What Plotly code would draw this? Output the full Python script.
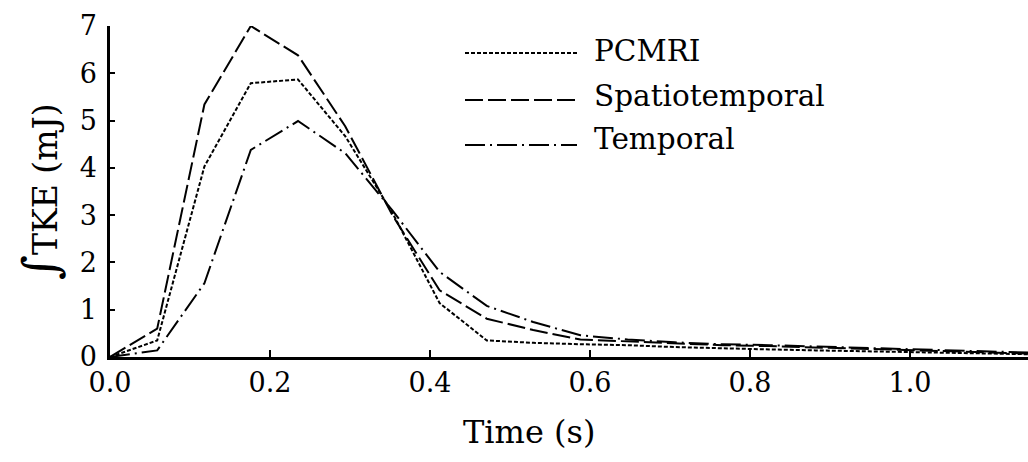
import plotly.graph_objects as go

# Data
time_s = [0.0, 0.059, 0.118, 0.176, 0.235, 0.294, 0.353, 0.412, 0.471, 0.529, 0.588,
          0.647, 0.706, 0.765, 0.824, 0.882, 0.941, 1.0, 1.059, 1.118, 1.176]
pcmri = [0.0, 0.35, 4.03, 5.79, 5.87, 4.67, 3.05, 1.14, 0.35, 0.30, 0.27,
         0.25, 0.21, 0.18, 0.16, 0.14, 0.12, 0.10, 0.08, 0.06, 0.05]
spatiotemporal = [0.0, 0.60, 5.34, 7.0, 6.38, 4.88, 3.0, 1.41, 0.81, 0.57, 0.37,
                  0.33, 0.28, 0.25, 0.23, 0.20, 0.17, 0.14, 0.11, 0.08, 0.06]
temporal = [0.0, 0.14, 1.56, 4.38, 4.99, 4.31, 3.1, 1.80, 1.08, 0.74, 0.46,
            0.37, 0.31, 0.27, 0.25, 0.22, 0.19, 0.16, 0.13, 0.10, 0.08]

series_names = ["PCMRI", "Spatiotemporal", "Temporal"]
series_values = [pcmri, spatiotemporal, temporal]
dashes = ["4px,2px", "18px,5px", "20px,5px,2px,5px"]

x_ticks = [0.0, 0.2, 0.4, 0.6, 0.8, 1.0]
x_tick_labels = ["0.0", "0.2", "0.4", "0.6", "0.8", "1.0"]
y_ticks = [0, 1, 2, 3, 4, 5, 6, 7]

FONT = "DejaVu Serif"
W, H = 1028, 462
ML, MR, MT, MB = 110, 0, 26, 105
PW, PH = W - ML - MR, H - MT - MB

def px(xp):
    return (xp - ML) / PW

def py(yp):
    return (H - MB - yp) / PH

fig = go.Figure()
for name, vals, dash in zip(series_names, series_values, dashes):
    fig.add_trace(go.Scatter(x=time_s, y=vals, mode="lines", name=name,
                             line=dict(color="black", width=2, dash=dash),
                             showlegend=False, hoverinfo="skip"))

# Manual legend (long line samples as in the reference)
leg_line_y = [53, 100, 145]
leg_text_y = [51, 96, 139]
shapes = []
annotations = []
for name, dash, ly, ty in zip(series_names, dashes, leg_line_y, leg_text_y):
    shapes.append(dict(type="line", xref="paper", yref="paper",
                       x0=px(465), x1=px(577), y0=py(ly), y1=py(ly),
                       line=dict(color="black", width=2, dash=dash)))
    annotations.append(dict(text=name, xref="paper", yref="paper",
                            x=px(592), y=py(ty), xanchor="left", yanchor="middle",
                            showarrow=False, font=dict(family=FONT, size=29.5, color="black")))

annotations.append(dict(text="Time (s)", xref="paper", yref="paper",
                        x=px(529), y=py(432), xanchor="center", yanchor="middle",
                        showarrow=False, font=dict(family=FONT, size=32, color="black")))
annotations.append(dict(text="<span style='font-size:48px'>∫</span>TKE (mJ)",
                        xref="paper", yref="paper",
                        x=px(40), y=py(192), xanchor="center", yanchor="middle",
                        textangle=-90,
                        showarrow=False, font=dict(family=FONT, size=33, color="black")))

fig.update_layout(
    width=W, height=H,
    margin=dict(l=ML, r=MR, t=MT, b=MB, autoexpand=False),
    plot_bgcolor="white", paper_bgcolor="white",
    shapes=shapes, annotations=annotations,
    xaxis=dict(range=[0, PW / 800], tickvals=x_ticks, ticktext=x_tick_labels,
               ticks="inside", ticklen=7, tickwidth=2, tickcolor="black",
               showline=True, linecolor="black", linewidth=2.5,
               showgrid=False, zeroline=False, automargin=False,
               tickfont=dict(family=FONT, size=27, color="black")),
    yaxis=dict(range=[0, 7], tickvals=y_ticks,
               ticks="inside", ticklen=5, tickwidth=2, tickcolor="black",
               showline=True, linecolor="black", linewidth=2.5,
               showgrid=False, zeroline=False, ticklabelstandoff=5, automargin=False,
               tickfont=dict(family=FONT, size=27, color="black")),
)

fig.write_html("out.html", config={"displayModeBar": False},
               post_script="document.body.style.margin='0';")
